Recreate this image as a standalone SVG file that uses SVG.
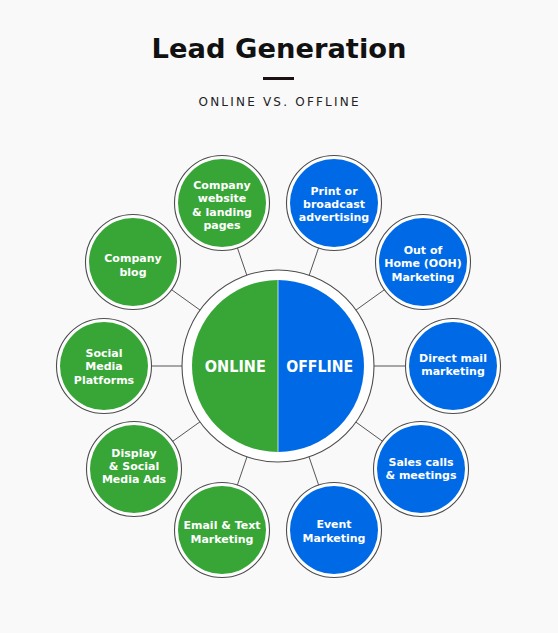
<svg xmlns="http://www.w3.org/2000/svg" width="558" height="633" viewBox="0 0 558 633">
  <defs>
    <style>
      .bg { fill: #f9f9f9; }
      .title { font-family: "DejaVu Sans", "Liberation Sans", sans-serif; font-weight: bold; font-size: 27px; fill: #111; }
      .sub { font-family: "DejaVu Sans", "Liberation Sans", sans-serif; font-size: 12px; fill: #222; }
      .conn { stroke: #555; stroke-width: 1; fill: none; }
      .ring { fill: #ffffff; stroke: #4d4d4d; stroke-width: 1.1; }
      .green { fill: #37a636; }
      .blue { fill: #006ae6; }
      .lbl { font-family: "DejaVu Sans", "Liberation Sans", sans-serif; font-weight: bold; font-size: 11px; fill: #ffffff; text-anchor: middle; }
      .big { font-family: "DejaVu Sans", "Liberation Sans", sans-serif; font-weight: bold; font-size: 15.5px; fill: #ffffff; text-anchor: middle; }
    </style>
  </defs>
  <rect class="bg" x="0" y="0" width="558" height="633"/>

  <g id="header">
    <text class="title" x="279" y="58" text-anchor="middle" textLength="255" lengthAdjust="spacingAndGlyphs">Lead Generation</text>
    <rect x="263" y="77" width="31" height="3" fill="#1a1212"/>
    <text class="sub" x="278.5" y="106" text-anchor="middle" textLength="160" lengthAdjust="spacing">ONLINE VS. OFFLINE</text>
  </g>

  <g id="connectors">
    <line class="conn" x1="278" y1="366" x2="222" y2="203"/>
    <line class="conn" x1="278" y1="366" x2="334" y2="203"/>
    <line class="conn" x1="278" y1="366" x2="133" y2="262"/>
    <line class="conn" x1="278" y1="366" x2="423" y2="262"/>
    <line class="conn" x1="278" y1="366" x2="104" y2="366"/>
    <line class="conn" x1="278" y1="366" x2="453" y2="366"/>
    <line class="conn" x1="278" y1="366" x2="134" y2="469"/>
    <line class="conn" x1="278" y1="366" x2="421" y2="469"/>
    <line class="conn" x1="278" y1="366" x2="222" y2="530"/>
    <line class="conn" x1="278" y1="366" x2="334" y2="530"/>
  </g>

  <g id="center">
    <circle class="ring" cx="278" cy="366" r="96"/>
    <path class="green" d="M278,280 A86,86 0 0 0 278,452 Z"/>
    <path class="blue" d="M278,280 A86,86 0 0 1 278,452 Z"/>
    <line x1="278" y1="280" x2="278" y2="452" stroke="#ffffff" stroke-opacity="0.7" stroke-width="1"/>
    <text class="big" x="235.3" y="371.7" textLength="61" lengthAdjust="spacingAndGlyphs">ONLINE</text>
    <text class="big" x="319.7" y="371.7" textLength="67" lengthAdjust="spacingAndGlyphs">OFFLINE</text>
  </g>

  <g id="company-website">
    <circle class="ring" cx="222" cy="203" r="47.5"/>
    <circle class="green" cx="222" cy="203" r="44"/>
    <text class="lbl" x="222" y="189">Company</text>
    <text class="lbl" x="222" y="202.3">website</text>
    <text class="lbl" x="222" y="215.7">&amp; landing</text>
    <text class="lbl" x="222" y="229">pages</text>
  </g>

  <g id="print-broadcast">
    <circle class="ring" cx="334" cy="203" r="47.5"/>
    <circle class="blue" cx="334" cy="203" r="44"/>
    <text class="lbl" x="334" y="194.5">Print or</text>
    <text class="lbl" x="334" y="207.8">broadcast</text>
    <text class="lbl" x="334" y="221.1">advertising</text>
  </g>

  <g id="company-blog">
    <circle class="ring" cx="133" cy="262" r="47.5"/>
    <circle class="green" cx="133" cy="262" r="44"/>
    <text class="lbl" x="133" y="261.7">Company</text>
    <text class="lbl" x="133" y="275.5">blog</text>
  </g>

  <g id="out-of-home">
    <circle class="ring" cx="423" cy="262" r="47.5"/>
    <circle class="blue" cx="423" cy="262" r="44"/>
    <text class="lbl" x="423" y="254">Out of</text>
    <text class="lbl" x="423" y="267.3">Home (OOH)</text>
    <text class="lbl" x="423" y="280.6">Marketing</text>
  </g>

  <g id="social-media-platforms">
    <circle class="ring" cx="104" cy="366" r="47.5"/>
    <circle class="green" cx="104" cy="366" r="44"/>
    <text class="lbl" x="104" y="357">Social</text>
    <text class="lbl" x="104" y="370.3">Media</text>
    <text class="lbl" x="104" y="383.6">Platforms</text>
  </g>

  <g id="direct-mail">
    <circle class="ring" cx="453" cy="366" r="47.5"/>
    <circle class="blue" cx="453" cy="366" r="44"/>
    <text class="lbl" x="453" y="361.7">Direct mail</text>
    <text class="lbl" x="453" y="375">marketing</text>
  </g>

  <g id="display-social-ads">
    <circle class="ring" cx="134" cy="469" r="47.5"/>
    <circle class="green" cx="134" cy="469" r="44"/>
    <text class="lbl" x="134" y="456.7">Display</text>
    <text class="lbl" x="134" y="470">&amp; Social</text>
    <text class="lbl" x="134" y="483.3">Media Ads</text>
  </g>

  <g id="sales-calls">
    <circle class="ring" cx="421" cy="469" r="47.5"/>
    <circle class="blue" cx="421" cy="469" r="44"/>
    <text class="lbl" x="421" y="466">Sales calls</text>
    <text class="lbl" x="421" y="479.3">&amp; meetings</text>
  </g>

  <g id="email-text">
    <circle class="ring" cx="222" cy="530" r="47.5"/>
    <circle class="green" cx="222" cy="530" r="44"/>
    <text class="lbl" x="222" y="529.3">Email &amp; Text</text>
    <text class="lbl" x="222" y="542.6">Marketing</text>
  </g>

  <g id="event-marketing">
    <circle class="ring" cx="334" cy="530" r="47.5"/>
    <circle class="blue" cx="334" cy="530" r="44"/>
    <text class="lbl" x="334" y="528.3">Event</text>
    <text class="lbl" x="334" y="541.6">Marketing</text>
  </g>
</svg>
